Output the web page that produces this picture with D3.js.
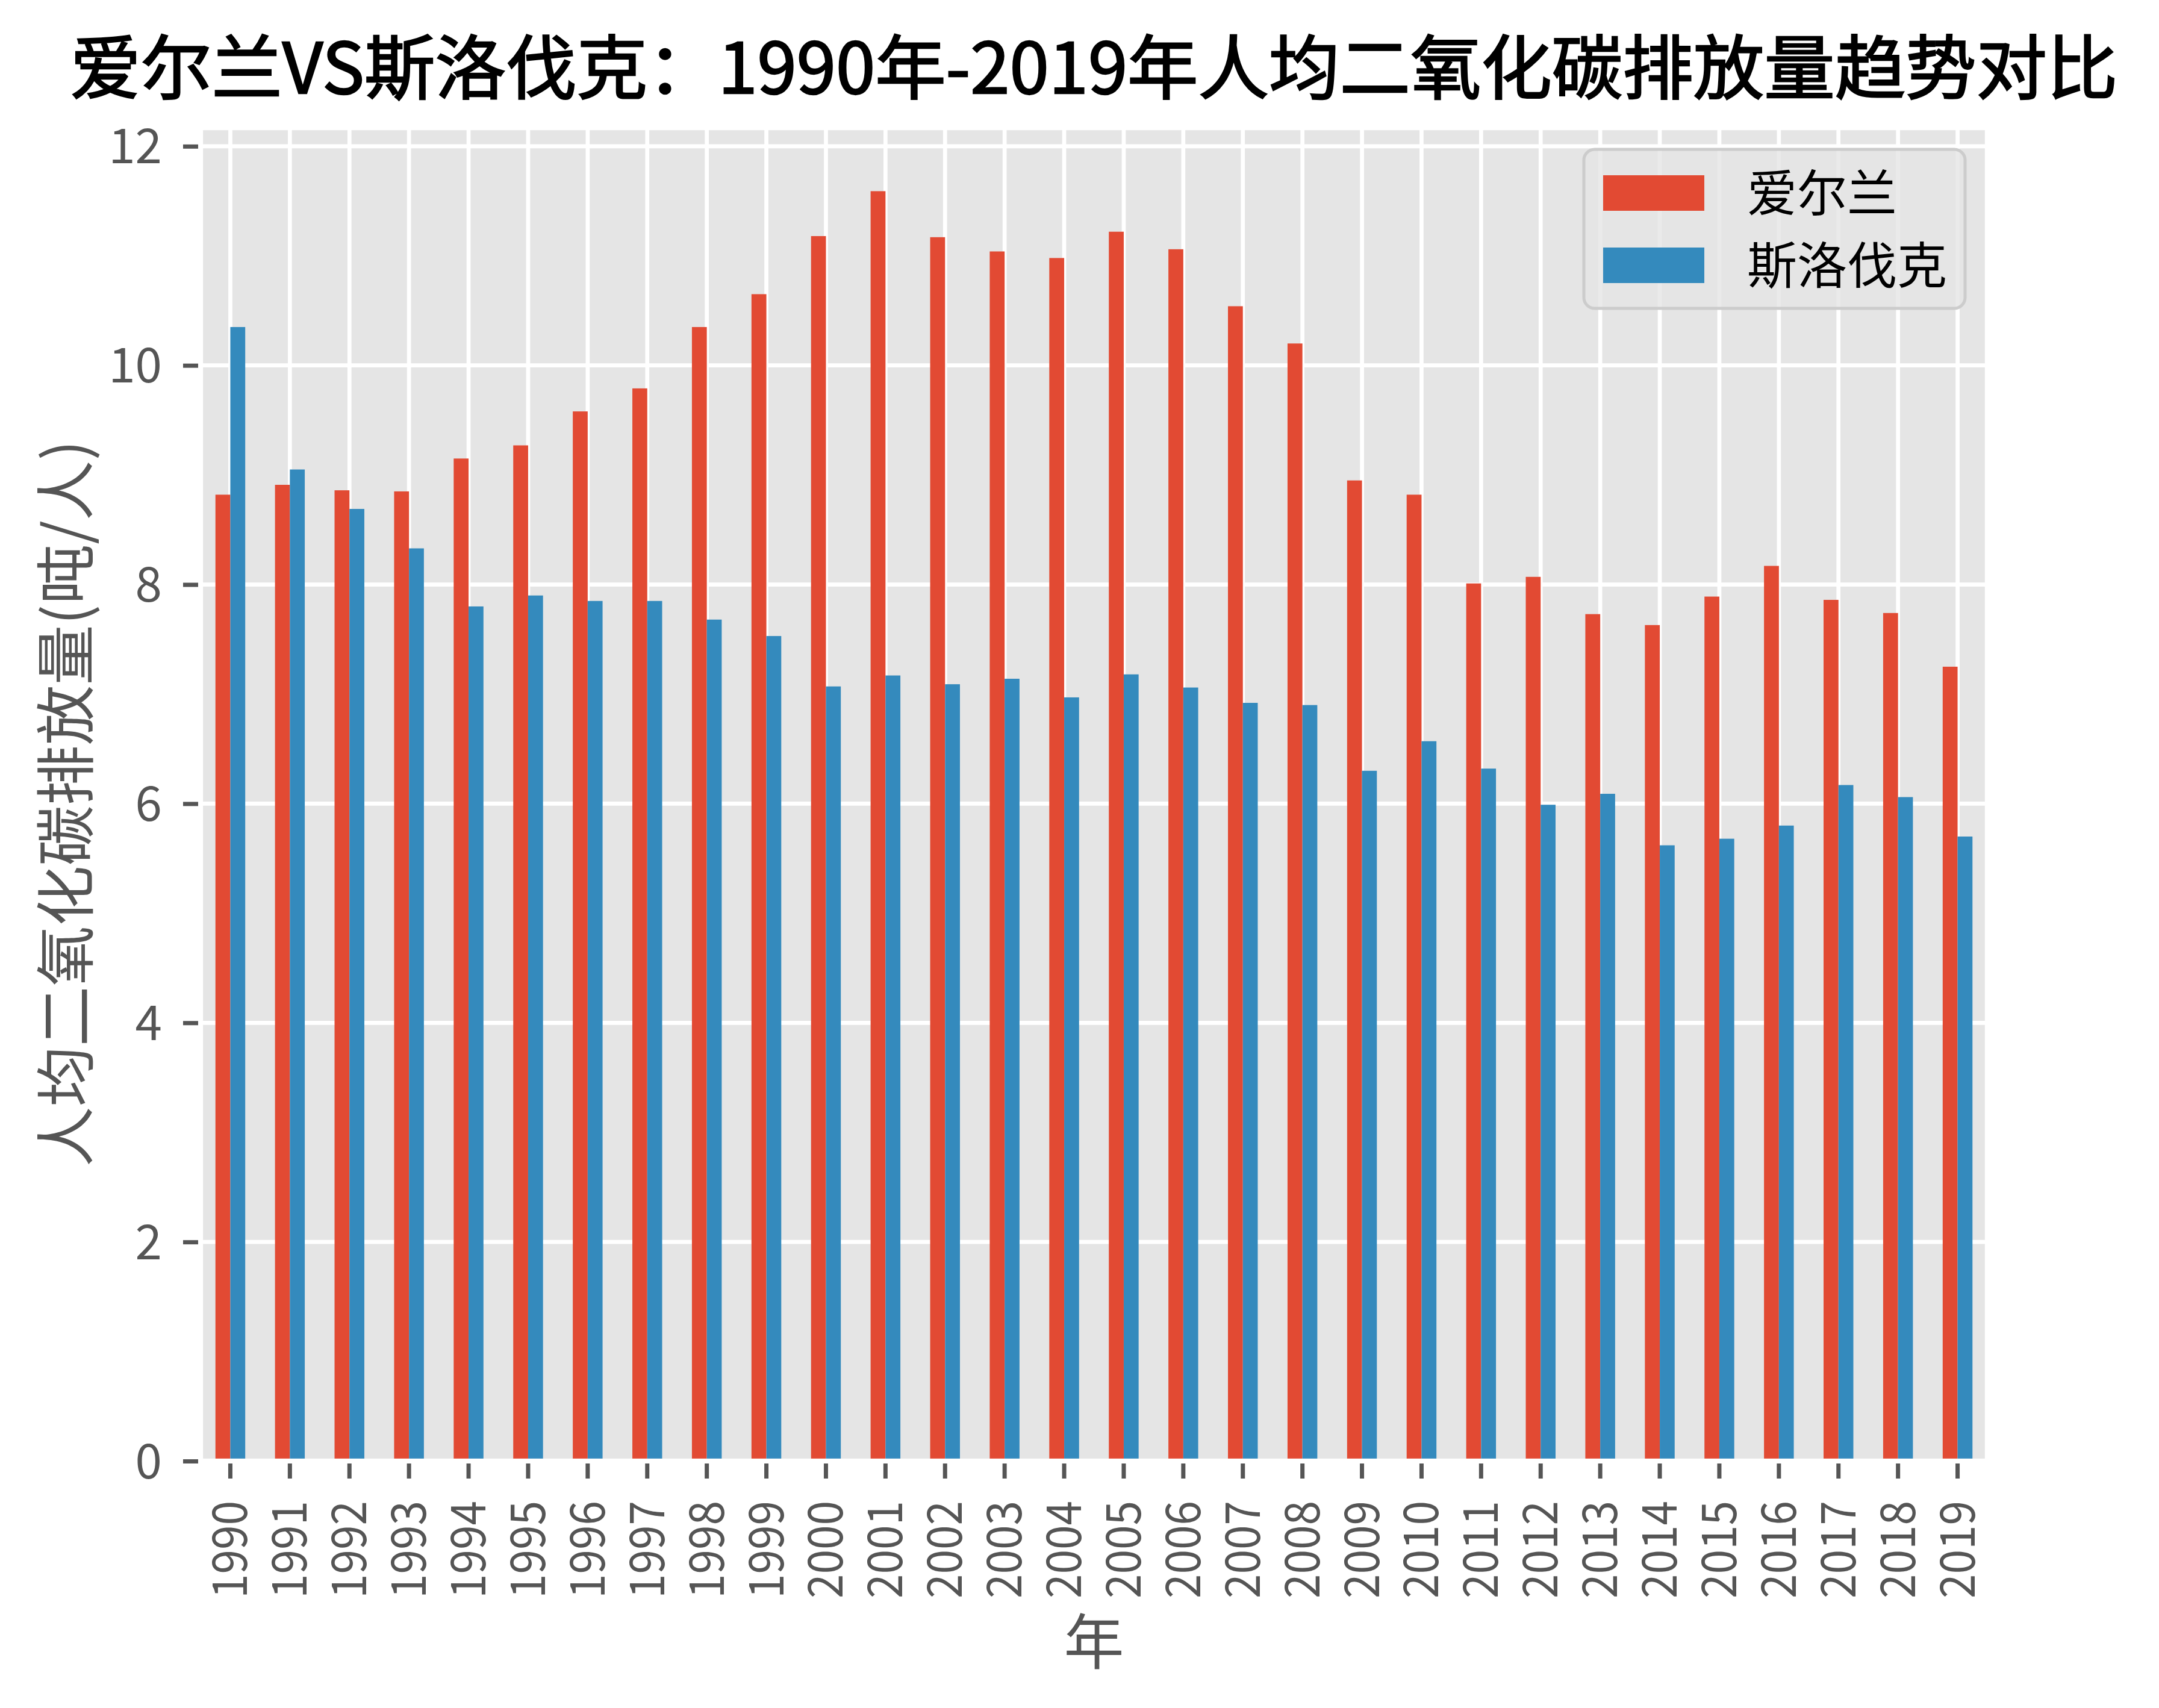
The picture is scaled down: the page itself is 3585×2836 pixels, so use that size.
<!DOCTYPE html>
<html>
<head>
<meta charset="utf-8">
<script src="https://cdn.jsdelivr.net/npm/d3@7"></script>
<style>
  html, body { margin: 0; padding: 0; background: #ffffff; }
  svg { display: block; }
</style>
</head>
<body>
<script>
// ---- data ----
const years = ["1990","1991","1992","1993","1994","1995","1996","1997","1998","1999",
               "2000","2001","2002","2003","2004","2005","2006","2007","2008","2009",
               "2010","2011","2012","2013","2014","2015","2016","2017","2018","2019"];
const ireland = [8.82, 8.91, 8.86, 8.85, 9.15, 9.27, 9.58, 9.79, 10.35, 10.65,
                 11.18, 11.59, 11.17, 11.04, 10.98, 11.22, 11.06, 10.54, 10.20, 8.95,
                 8.82, 8.01, 8.07, 7.73, 7.63, 7.89, 8.17, 7.86, 7.74, 7.25];
const slovakia = [10.35, 9.05, 8.69, 8.33, 7.80, 7.90, 7.85, 7.85, 7.68, 7.53,
                  7.07, 7.17, 7.09, 7.14, 6.97, 7.18, 7.06, 6.92, 6.90, 6.30,
                  6.57, 6.32, 5.99, 6.09, 5.62, 5.68, 5.80, 6.17, 6.06, 5.70];
const seriesNames = ["爱尔兰", "斯洛伐克"];
const yTicks = [0, 2, 4, 6, 8, 10, 12];
const titleText = "爱尔兰VS斯洛伐克：1990年-2019年人均二氧化碳排放量趋势对比";
const xLabel = "年";
const yLabel = "人均二氧化碳排放量(吨/人)";

// ---- layout ----
const W = 3585, H = 2836;
const plot = { left: 333, right: 3300, top: 212, bottom: 2426 };
const colors = ["#E24A33", "#348ABD"];
const font = "'Noto Sans CJK SC', 'Noto Sans', sans-serif";

const svg = d3.select("body").append("svg")
  .attr("width", W).attr("height", H)
  .style("font-family", font);

const x = d3.scaleBand().domain(years).range([plot.left, plot.right]).paddingInner(0).paddingOuter(0);
const ymax = d3.max(ireland.concat(slovakia)) * 1.05;
const y = d3.scaleLinear().domain([0, ymax]).range([plot.bottom, plot.top]);

// background
svg.append("rect")
  .attr("x", plot.left).attr("y", plot.top)
  .attr("width", plot.right - plot.left).attr("height", plot.bottom - plot.top)
  .attr("fill", "#E5E5E5");

// grid
const grid = svg.append("g");
grid.selectAll("line.gx").data(years).enter().append("line")
  .attr("x1", d => x(d) + x.bandwidth() / 2).attr("x2", d => x(d) + x.bandwidth() / 2)
  .attr("y1", plot.top).attr("y2", plot.bottom)
  .attr("stroke", "#ffffff").attr("stroke-width", 6.7);
grid.selectAll("line.gy").data(yTicks).enter().append("line")
  .attr("x1", plot.left).attr("x2", plot.right)
  .attr("y1", d => y(d)).attr("y2", d => y(d))
  .attr("stroke", "#ffffff").attr("stroke-width", 6.7);

// bars
const bw = x.bandwidth() * 0.25;
const seriesData = [ireland, slovakia];
seriesData.forEach((vals, si) => {
  svg.append("g").selectAll("rect").data(vals).enter().append("rect")
    .attr("x", (d, i) => x(years[i]) + x.bandwidth() / 2 - bw + si * bw)
    .attr("y", d => y(d))
    .attr("width", bw)
    .attr("height", d => y(0) - y(d))
    .attr("fill", colors[si]);
});

// spines (white)
svg.append("rect")
  .attr("x", plot.left).attr("y", plot.top)
  .attr("width", plot.right - plot.left).attr("height", plot.bottom - plot.top)
  .attr("fill", "none").attr("stroke", "#ffffff").attr("stroke-width", 8.3);

// y axis
const yAxis = d3.axisLeft(y).tickValues(yTicks).tickSize(29).tickPadding(8).tickFormat(d3.format("d"));
const gy = svg.append("g").attr("transform", `translate(${plot.left - 4},0)`).call(yAxis);
gy.select(".domain").remove();
gy.selectAll(".tick line").attr("stroke", "#555555").attr("stroke-width", 7).attr("x2", -25);
gy.selectAll(".tick text").attr("fill", "#555555").attr("font-size", 80)
  .attr("font-family", font).attr("x", -60).attr("dy", "0.35em");

// x axis
const xAxis = d3.axisBottom(x).tickSize(29).tickPadding(0);
const gx = svg.append("g").attr("transform", `translate(0,${plot.bottom + 4})`).call(xAxis);
gx.select(".domain").remove();
gx.selectAll(".tick line").attr("stroke", "#555555").attr("stroke-width", 7).attr("y2", 25);
gx.selectAll(".tick text")
  .attr("fill", "#555555").attr("font-size", 80).attr("font-family", font)
  .attr("text-anchor", "end")
  .attr("transform", "translate(0,62) rotate(-90)")
  .attr("x", 0).attr("y", 0).attr("dy", "0.35em")
  .attr("textLength", 162).attr("lengthAdjust", "spacingAndGlyphs");

// title
svg.append("text")
  .attr("x", (plot.left + plot.right) / 2).attr("y", 113)
  .attr("text-anchor", "middle").attr("dy", "0.36em")
  .attr("font-size", 116).attr("font-weight", 400).attr("fill", "#000000")
  .attr("stroke", "#000000").attr("stroke-width", 2.5)
  .attr("textLength", 3400).attr("lengthAdjust", "spacingAndGlyphs")
  .text(titleText);

// axis labels
svg.append("text")
  .attr("x", (plot.left + plot.right) / 2).attr("y", 2727)
  .attr("text-anchor", "middle").attr("dy", "0.36em")
  .attr("font-size", 100).attr("fill", "#555555")
  .text(xLabel);
svg.append("text")
  .attr("transform", `translate(110,${(plot.top + plot.bottom) / 2 + 15}) rotate(-90)`)
  .attr("text-anchor", "middle").attr("dy", "0.36em")
  .attr("font-size", 100).attr("fill", "#555555")
  .text(yLabel);

// legend
const lg = svg.append("g");
lg.append("rect")
  .attr("x", 2630).attr("y", 248).attr("width", 633).attr("height", 264)
  .attr("rx", 18).attr("ry", 18)
  .attr("fill", "#E5E5E5").attr("fill-opacity", 0.8)
  .attr("stroke", "#CCCCCC").attr("stroke-width", 5);
seriesNames.forEach((name, i) => {
  lg.append("rect")
    .attr("x", 2662).attr("y", 291 + i * 120).attr("width", 168).attr("height", 59)
    .attr("fill", colors[i]);
  lg.append("text")
    .attr("x", 2901).attr("y", 321 + i * 120).attr("dy", "0.36em")
    .attr("font-size", 83).attr("fill", "#000000")
    .text(name);
});
</script>
</body>
</html>
